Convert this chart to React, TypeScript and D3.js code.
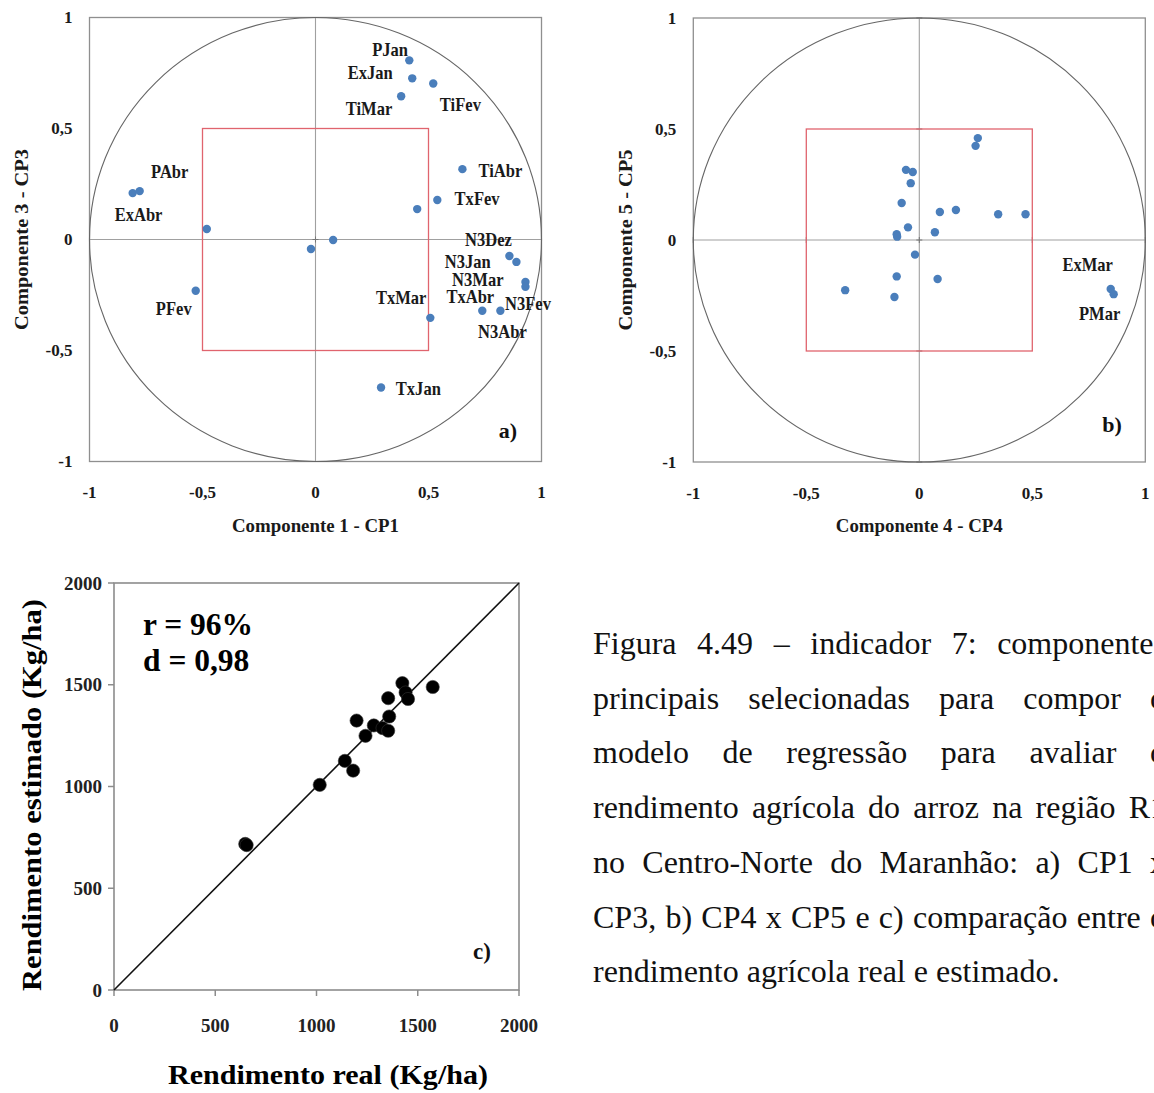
import React, { useMemo } from 'react';
import * as d3 from 'd3';

const W = 1154;
const H = 1093;
const SERIF = "'Liberation Serif','Times New Roman',Times,serif";

// ---------- Panel a: CP1 x CP3 ----------
const aCP1 = [0.415, 0.428, 0.521, 0.379, 0.650, 0.539, 0.450, -0.809, -0.778, -0.481, -0.020, 0.078, -0.530, 0.858, 0.889, 0.929, 0.929, 0.738, 0.818, 0.508, 0.290];
const aCP3 = [0.807, 0.726, 0.703, 0.645, 0.317, 0.178, 0.137, 0.209, 0.218, 0.047, -0.043, -0.002, -0.231, -0.074, -0.101, -0.191, -0.213, -0.321, -0.321, -0.353, -0.667];
const aLabelText = ['PJan', 'ExJan', 'TiMar', 'TiFev', 'TiAbr', 'TxFev', 'PAbr', 'ExAbr', 'PFev', 'N3Dez', 'N3Jan', 'N3Mar', 'TxAbr', 'N3Fev', 'N3Abr', 'TxMar', 'TxJan'];
const aLabelX = [0.330, 0.242, 0.237, 0.641, 0.818, 0.715, -0.645, -0.783, -0.627, 0.765, 0.674, 0.718, 0.685, 0.940, 0.827, 0.379, 0.455];
const aLabelY = [0.854, 0.750, 0.588, 0.606, 0.309, 0.182, 0.304, 0.107, -0.313, -0.005, -0.103, -0.184, -0.260, -0.292, -0.420, -0.265, -0.675];

// ---------- Panel b: CP4 x CP5 ----------
const bCP4 = [0.259, 0.249, -0.059, -0.029, -0.038, -0.078, 0.091, 0.162, 0.349, 0.470, -0.050, 0.069, -0.100, -0.098, -0.019, -0.100, 0.081, -0.328, -0.110, 0.847, 0.860];
const bCP5 = [0.459, 0.424, 0.316, 0.306, 0.256, 0.167, 0.126, 0.135, 0.116, 0.116, 0.057, 0.035, 0.026, 0.015, -0.066, -0.164, -0.176, -0.226, -0.257, -0.221, -0.244];
const bLabelText = ['ExMar', 'PMar'];
const bLabelX = [0.745, 0.798];
const bLabelY = [-0.113, -0.334];

const circleTicks = [-1, -0.5, 0, 0.5, 1];

// ---------- Panel c: real vs estimated ----------
const cReal = [648, 655, 1016, 1140, 1181, 1198, 1242, 1283, 1326, 1354, 1359, 1354, 1424, 1440, 1452, 1574];
const cEst = [718, 712, 1008, 1126, 1078, 1324, 1249, 1300, 1287, 1274, 1344, 1434, 1508, 1462, 1430, 1489];
const cTicks = [0, 500, 1000, 1500, 2000];
const cStats = ['r = 96%', 'd = 0,98'];

// ---------- Caption ----------
const captionLines = [
  'Figura 4.49 – indicador 7: componentes',
  'principais selecionadas para compor o',
  'modelo de regressão para avaliar o',
  'rendimento agrícola do arroz na região R1',
  'no Centro-Norte do Maranhão: a) CP1 x',
  'CP3, b) CP4 x CP5 e c) comparação entre o',
  'rendimento agrícola real e estimado.',
];

const fmtComma = (v: number) => String(v).replace('.', ',');

function measure(text: string, font: string): number {
  const c = document.createElement('canvas');
  const ctx = c.getContext('2d')!;
  ctx.font = font;
  return ctx.measureText(text).width;
}

type CircleProps = {
  left: number; top: number; xs: number[]; ys: number[];
  lt: string[]; lx: number[]; ly: number[];
  xTitle: string; yTitle: string; yTitleX: number; tag: string; tagX: number; tagY: number;
};

function CirclePanel(p: CircleProps) {
  const x = d3.scaleLinear().domain([-1, 1]).range([p.left, p.left + 452]);
  const y = d3.scaleLinear().domain([-1, 1]).range([p.top + 444, p.top]);
  const gray = '#8f8f8f';
  return (
    <g>
      <rect x={x(-1)} y={y(1)} width={x(1) - x(-1)} height={y(-1) - y(1)} fill="none" stroke={gray} strokeWidth={1.3} />
      <line x1={x(-1)} x2={x(1)} y1={y(0)} y2={y(0)} stroke="#a0a0a0" strokeWidth={1.1} />
      <line x1={x(0)} x2={x(0)} y1={y(1)} y2={y(-1)} stroke="#a0a0a0" strokeWidth={1.1} />
      {circleTicks.map((t) => (
        <g key={'tk' + t}>
          <line x1={x(0) - 3} x2={x(0) + 3} y1={y(t)} y2={y(t)} stroke="#777" strokeWidth={1} />
          <line x1={x(t)} x2={x(t)} y1={y(0) - 3} y2={y(0) + 3} stroke="#777" strokeWidth={1} />
        </g>
      ))}
      <ellipse cx={x(0)} cy={y(0)} rx={x(1) - x(0)} ry={y(-1) - y(0)} fill="none" stroke="#666" strokeWidth={1.1} />
      <rect x={x(-0.5)} y={y(0.5)} width={x(0.5) - x(-0.5)} height={y(-0.5) - y(0.5)} fill="none" stroke="#e0646e" strokeWidth={1.3} />
      {p.xs.map((v, i) => (
        <circle key={'p' + i} cx={x(v)} cy={y(p.ys[i])} r={4.2} fill="#4a7ebb" />
      ))}
      {p.lt.map((t, i) => (
        <text key={'l' + i} transform={`translate(${x(p.lx[i])},${y(p.ly[i])}) scale(0.92,1)`} textAnchor="middle" dominantBaseline="central" fontSize={18} fontWeight="bold" fill="#1a1a1a">{t}</text>
      ))}
      {circleTicks.map((t) => (
        <text key={'xt' + t} x={x(t)} y={y(-1) + 31} textAnchor="middle" dominantBaseline="central" fontSize={17} fontWeight="bold" fill="#1a1a1a">{fmtComma(t)}</text>
      ))}
      {circleTicks.map((t) => (
        <text key={'yt' + t} x={x(-1) - 17} y={y(t)} textAnchor="end" dominantBaseline="central" fontSize={17} fontWeight="bold" fill="#1a1a1a">{fmtComma(t)}</text>
      ))}
      <text x={x(0)} y={y(-1) + 70} textAnchor="middle" fontSize={19} fontWeight="bold" fill="#1a1a1a" textLength={167} lengthAdjust="spacingAndGlyphs">{p.xTitle}</text>
      <text transform={`translate(${p.yTitleX},${y(0)}) rotate(-90)`} textAnchor="middle" fontSize={19} fontWeight="bold" fill="#1a1a1a" textLength={181} lengthAdjust="spacingAndGlyphs">{p.yTitle}</text>
      <text x={x(p.tagX)} y={y(p.tagY)} textAnchor="middle" dominantBaseline="central" fontSize={22} fontWeight="bold" fill="#111">{p.tag}</text>
    </g>
  );
}

function ScatterC() {
  const x = d3.scaleLinear().domain([0, 2000]).range([114, 519]);
  const y = d3.scaleLinear().domain([0, 2000]).range([990, 583]);
  const line = d3.line<number>().x((d) => x(d)).y((d) => y(d));
  const gray = '#8c8c8c';
  return (
    <g>
      <rect x={x(0)} y={y(2000)} width={x(2000) - x(0)} height={y(0) - y(2000)} fill="none" stroke={gray} strokeWidth={1.6} />
      {cTicks.map((t) => (
        <g key={'ct' + t}>
          <line x1={x(0) - 6} x2={x(0)} y1={y(t)} y2={y(t)} stroke={gray} strokeWidth={1.5} />
          <line x1={x(t)} x2={x(t)} y1={y(0)} y2={y(0) + 6} stroke={gray} strokeWidth={1.5} />
          <text x={x(0) - 12} y={y(t)} textAnchor="end" dominantBaseline="central" fontSize={19} fontWeight="bold" fill="#222">{t}</text>
          <text x={x(t)} y={y(0) + 35} textAnchor="middle" dominantBaseline="central" fontSize={19} fontWeight="bold" fill="#222">{t}</text>
        </g>
      ))}
      <path d={line([0, 2000]) || ''} stroke="#111" strokeWidth={1.6} fill="none" />
      {cReal.map((v, i) => (
        <circle key={'cp' + i} cx={x(v)} cy={y(cEst[i])} r={6.6} fill="#000" stroke="#333" strokeWidth={0.6} />
      ))}
      {cStats.map((s, i) => (
        <text key={'st' + i} x={143} y={635 + i * 36} fontSize={31.5} fontWeight="bold" fill="#000">{s}</text>
      ))}
      <text x={482} y={951} textAnchor="middle" dominantBaseline="central" fontSize={23} fontWeight="bold" fill="#111">c)</text>
      <text x={328} y={1084} textAnchor="middle" fontSize={27} fontWeight="bold" fill="#000" textLength={320} lengthAdjust="spacingAndGlyphs">Rendimento real (Kg/ha)</text>
      <text transform={`translate(41,${y(0) - 195}) rotate(-90)`} textAnchor="middle" fontSize={28} fontWeight="bold" fill="#000" textLength={392} lengthAdjust="spacingAndGlyphs">Rendimento estimado (Kg/ha)</text>
    </g>
  );
}

function Caption() {
  const fontSize = 32;
  const left = 593;
  const right = 1166;
  const font = `${fontSize}px ${SERIF}`;
  const layout = useMemo(() => {
    return captionLines.map((ln, li) => {
      const words = ln.split(' ');
      const widths = words.map((w) => measure(w, font));
      const last = li === captionLines.length - 1;
      const space = measure(' ', font);
      const total = widths.reduce((a, b) => a + b, 0);
      const gap = last ? space : (right - left - total) / (words.length - 1);
      let cx = left;
      return words.map((w, i) => {
        const pos = cx;
        cx += widths[i] + gap;
        return { w, pos };
      });
    });
  }, [font]);
  return (
    <g>
      {layout.map((words, li) => (
        <g key={'cl' + li}>
          {words.map((o, wi) => (
            <text key={wi} x={o.pos} y={654 + li * 54.7} fontSize={fontSize} fill="#111">{o.w}</text>
          ))}
        </g>
      ))}
    </g>
  );
}

export default function App() {
  return (
    <svg width={W} height={H} viewBox={`0 0 ${W} ${H}`} style={{ position: 'absolute', left: 0, top: 0, background: '#fff' }} fontFamily={SERIF}>
      <rect x={0} y={0} width={W} height={H} fill="#fff" />
      <CirclePanel left={89.5} top={17.5} xs={aCP1} ys={aCP3} lt={aLabelText} lx={aLabelX} ly={aLabelY}
        xTitle="Componente 1 - CP1" yTitle="Componente 3 - CP3" yTitleX={28} tag="a)" tagX={0.851} tagY={-0.861} />
      <CirclePanel left={693.3} top={18} xs={bCP4} ys={bCP5} lt={bLabelText} lx={bLabelX} ly={bLabelY}
        xTitle="Componente 4 - CP4" yTitle="Componente 5 - CP5" yTitleX={632} tag="b)" tagX={0.853} tagY={-0.83} />
      <ScatterC />
      <Caption />
    </svg>
  );
}
